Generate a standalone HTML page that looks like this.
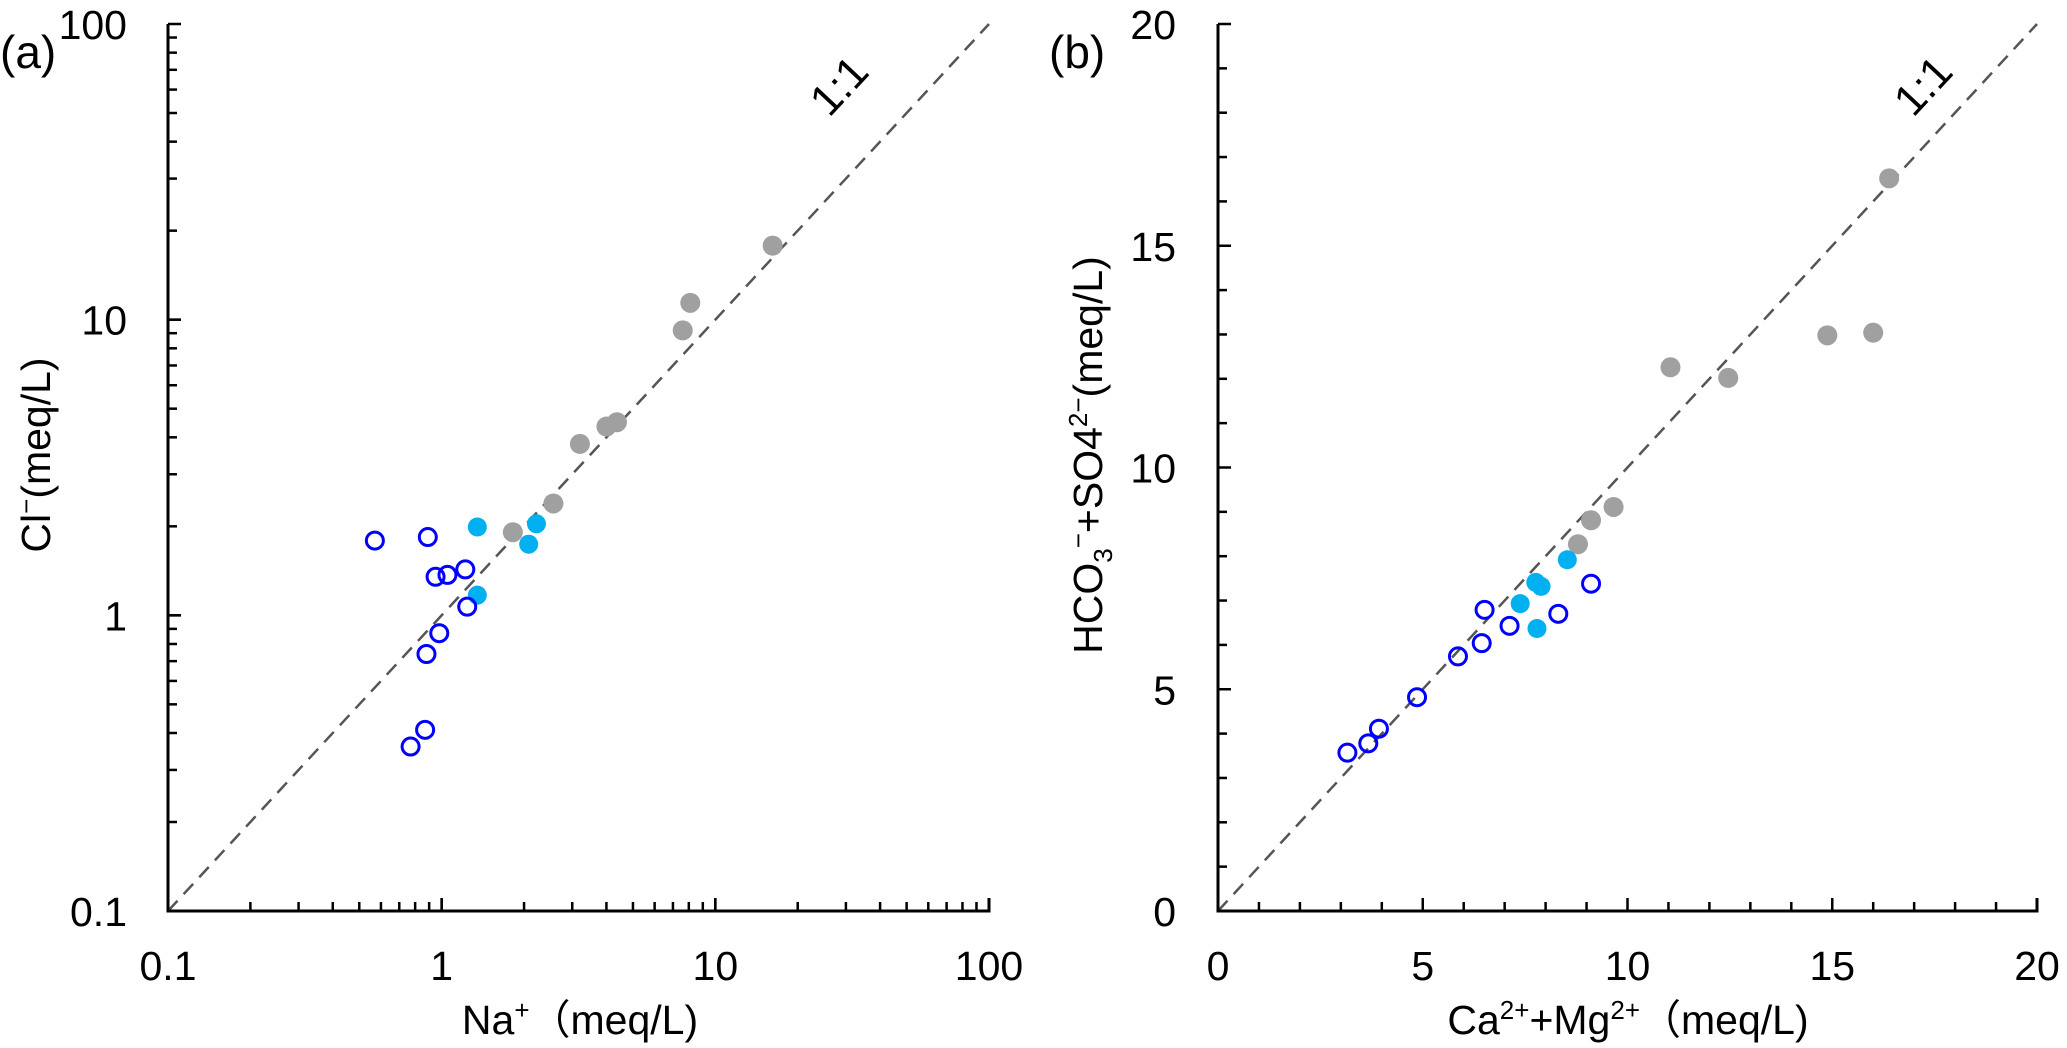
<!DOCTYPE html>
<html><head><meta charset="utf-8"><style>
html,body{margin:0;padding:0;background:#fff;}
svg{display:block;font-family:"Liberation Sans",Arial,sans-serif;}
</style></head><body>
<svg id="chart" width="2067" height="1048" xmlns="http://www.w3.org/2000/svg">
<text x="0" y="68" font-size="46">(a)</text>
<text x="1049" y="68" font-size="46">(b)</text>
<text x="580" y="1034" font-size="41" text-anchor="middle">Na<tspan font-size="26" dy="-15">+</tspan><tspan dy="15">（meq/L)</tspan></text>
<text x="1628" y="1034" font-size="41" text-anchor="middle">Ca<tspan font-size="26" dy="-15">2+</tspan><tspan dy="15">+Mg</tspan><tspan font-size="26" dy="-15">2+</tspan><tspan dy="15">（meq/L)</tspan></text>
<text transform="translate(50,455) rotate(-90)" font-size="41" text-anchor="middle">Cl<tspan font-size="26" dy="-15">−</tspan><tspan dy="15">(meq/L)</tspan></text>
<text transform="translate(1102,455) rotate(-90)" font-size="41" text-anchor="middle">HCO<tspan font-size="26" dy="10">3</tspan><tspan font-size="26" dy="-25">−</tspan><tspan dy="15">+SO4</tspan><tspan font-size="26" dy="-15">2−</tspan><tspan dy="15">(meq/L)</tspan></text>
<text transform="translate(850,96) rotate(-47)" font-size="44" text-anchor="middle">1:1</text>
<text transform="translate(1934,96) rotate(-47)" font-size="44" text-anchor="middle">1:1</text>
</svg>
<script>
// Panel (a) data: Na+ vs Cl-
const aHollowX = [0.57,0.89,0.95,1.05,1.22,1.24,0.98,0.88,0.87,0.77];
const aHollowY = [1.79,1.84,1.35,1.37,1.43,1.07,0.87,0.74,0.41,0.36];
const aCyanX = [1.35,2.22,2.08,1.35];
const aCyanY = [1.99,2.04,1.74,1.17];
const aGrayX = [1.82,2.56,3.20,4.0,4.37,7.6,8.1,16.2];
const aGrayY = [1.91,2.39,3.80,4.35,4.5,9.2,11.4,17.8];
const aTicks = [0.1,1,10,100];
const aTickLabels = ["0.1","1","10","100"];
// Panel (b) data: Ca2+ + Mg2+ vs HCO3- + SO42-
const bHollowX = [3.16,3.67,3.93,4.86,5.86,6.44,6.51,7.12,8.31,9.11];
const bHollowY = [3.57,3.78,4.11,4.82,5.74,6.04,6.79,6.43,6.70,7.38];
const bCyanX = [7.38,7.76,7.89,7.79,8.53];
const bCyanY = [6.93,7.41,7.32,6.37,7.92];
const bGrayX = [8.79,9.11,9.66,11.05,12.46,14.88,16.0,16.39];
const bGrayY = [8.27,8.81,9.11,12.26,12.02,12.98,13.04,16.52];
const bTicks = [0,5,10,15,20];
const bTickLabels = ["0","5","10","15","20"];

const NS="http://www.w3.org/2000/svg";
const svg=document.getElementById('chart');
function mk(tag,attrs){const e=document.createElementNS(NS,tag);for(const k in attrs)e.setAttribute(k,attrs[k]);svg.appendChild(e);return e;}

const aL=168,aR=989,T=24,B=911,bL=1218,bR=2037;
const ax=v=>aL+(Math.log10(v)+1)/3*(aR-aL);
const ay=v=>B-(Math.log10(v)+1)/3*(B-T);
const bx=v=>bL+v/20*(bR-bL);
const by=v=>B-v/20*(B-T);

let l=mk('line',{x1:ax(0.1),y1:ay(0.1),x2:ax(100),y2:ay(100),stroke:'#555',"stroke-width":2.5,"stroke-dasharray":"14,9"});


l=mk('line',{x1:bx(0),y1:by(0),x2:bx(20),y2:by(20),stroke:'#555',"stroke-width":2.5,"stroke-dasharray":"14,9"});



for(let d=0.1;d<100;d*=10){for(let k=1;k<=10;k++){const v=d*k;const maj=(k===1||k===10);const len=maj?13:9;
 let t=mk('line',{x1:ax(v),y1:B,x2:ax(v),y2:B-len,stroke:'#000','stroke-width':2.5});
 
 
 t=mk('line',{x1:aL,y1:ay(v),x2:aL+len,y2:ay(v),stroke:'#000','stroke-width':2.5});
 
 }}
for(let v=0;v<=20;v++){const len=(v%5===0)?13:9;
 let t=mk('line',{x1:bx(v),y1:B,x2:bx(v),y2:B-len,stroke:'#000','stroke-width':2.5});
 
 
 t=mk('line',{x1:bL,y1:by(v),x2:bL+len,y2:by(v),stroke:'#000','stroke-width':2.5});
 
 }

let p=mk('path',{d:`M${aL},${T} V${B} H${aR} V${B-13}`,fill:'none',stroke:'#000','stroke-width':3});


p=mk('path',{d:`M${bL},${T} V${B} H${bR} V${B-13}`,fill:'none',stroke:'#000','stroke-width':3});



aTicks.forEach((v,i)=>{
 let t=mk('text',{x:ax(v),y:980,'font-size':41,'text-anchor':'middle'});t.textContent=aTickLabels[i];
 
 
 t=mk('text',{x:127,y:ay(v)+15,'font-size':41,'text-anchor':'end'});t.textContent=aTickLabels[i];
 
 
});
bTicks.forEach((v,i)=>{
 let t=mk('text',{x:bx(v),y:980,'font-size':41,'text-anchor':'middle'});t.textContent=bTickLabels[i];
 
 
 t=mk('text',{x:1176,y:by(v)+15,'font-size':41,'text-anchor':'end'});t.textContent=bTickLabels[i];
 
 
});

function pts(xs,ys,fx,fy,style,name){xs.forEach((x,i)=>{
 const c=mk('circle',Object.assign({cx:fx(x),cy:fy(ys[i])},style));
 
 
});}
const gray={r:10,fill:'#a0a0a0'},cyan={r:9.5,fill:'#00b0f0'},hollow={r:8.5,fill:'none',stroke:'#0000ff','stroke-width':3};
pts(aGrayX,aGrayY,ax,ay,gray,'point-gray-a');
pts(aCyanX,aCyanY,ax,ay,cyan,'point-cyan-a');
pts(aHollowX,aHollowY,ax,ay,hollow,'point-hollow-a');
pts(bGrayX,bGrayY,bx,by,gray,'point-gray-b');
pts(bCyanX,bCyanY,bx,by,cyan,'point-cyan-b');
pts(bHollowX,bHollowY,bx,by,hollow,'point-hollow-b');
</script>
</body></html>
